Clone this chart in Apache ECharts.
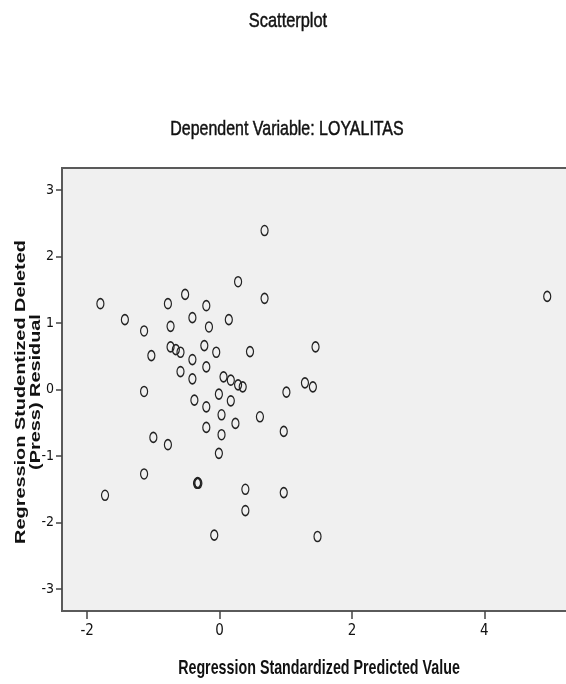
<!DOCTYPE html>
<html>
<head>
<meta charset="utf-8">
<script src="https://cdn.jsdelivr.net/npm/echarts@6/dist/echarts.min.js"></script>
<style>
html,body{margin:0;padding:0;background:#fff;}
#chart{width:566px;height:684px;}
</style>
</head>
<body>
<div id="chart"></div>
<script>
// Regression Standardized Predicted Value
var predicted = [0.68, 0.28, 0.68, -1.80, -0.78, -0.52, -0.20, -1.43, -0.41, 0.14,
  -1.14, -0.74, -0.16, 1.45, -0.74, -0.66, -0.59, -0.23, -0.05, 0.46,
  -1.03, -0.41, -0.20, -0.59, -0.41, 0.06, 0.17, 0.28, 0.35, 1.29,
  1.41, -1.14, 1.01, -0.01, -0.38, 0.17, -0.20, 0.03, 0.61, 0.24,
  -0.20, 0.97, 0.03, -1.00, -0.78, -0.01, -1.14, -0.34, -0.32, -0.33,
  0.39, 0.97, -1.73, 0.39, -0.08, 1.48, 4.95];
// Regression Studentized Deleted (Press) Residual
var residual = [2.39, 1.62, 1.37, 1.29, 1.29, 1.43, 1.26, 1.05, 1.08, 1.05,
  0.88, 0.95, 0.94, 0.64, 0.64, 0.60, 0.56, 0.66, 0.56, 0.57,
  0.51, 0.45, 0.34, 0.27, 0.16, 0.19, 0.14, 0.07, 0.04, 0.10,
  0.04, -0.03, -0.04, -0.07, -0.16, -0.17, -0.26, -0.38, -0.41, -0.51,
  -0.57, -0.63, -0.68, -0.72, -0.83, -0.96, -1.27, -1.41, -1.41, -1.40,
  -1.50, -1.55, -1.59, -1.82, -2.19, -2.21, 1.40];
var xTicks = [-2, 0, 2, 4];
var yTicks = [-3, -2, -1, 0, 1, 2, 3];
var chartTitle = 'Scatterplot';
var chartSubtitle = 'Dependent Variable: LOYALITAS';
var xName = 'Regression Standardized Predicted Value';
var yName = 'Regression Studentized Deleted\n(Press) Residual';

var sans = "'Liberation Sans',Arial,sans-serif";
var narrow = "'DejaVu Sans Condensed','Liberation Sans Narrow','Arial Narrow',Arial,sans-serif";
var points = predicted.map(function (x, i) { return [x, residual[i]]; });

var chart = echarts.init(document.getElementById('chart'), null, {renderer: 'canvas'});
chart.setOption({
  animation: false,
  backgroundColor: '#ffffff',
  graphic: [
    {type: 'text', x: 288, y: 21, scaleX: 0.78, style: {text: chartTitle, textAlign: 'center', textVerticalAlign: 'middle',
      font: '21px ' + sans, fill: '#111', stroke: '#111', lineWidth: 0.5}},
    {type: 'text', x: 287, y: 129, scaleX: 0.76, style: {text: chartSubtitle, textAlign: 'center', textVerticalAlign: 'middle',
      font: '21px ' + sans, fill: '#111', stroke: '#111', lineWidth: 0.5}},
    {type: 'text', x: 319, y: 668, scaleX: 0.68, style: {text: xName, textAlign: 'center', textVerticalAlign: 'middle',
      font: 'bold 21px ' + sans, fill: '#111'}},
    {type: 'text', x: 29, y: 392, rotation: Math.PI / 2, scaleX: 1.42, style: {text: yName, textAlign: 'center',
      textVerticalAlign: 'middle', font: 'bold 14px ' + sans, lineHeight: 15, fill: '#111'}}
  ],
  grid: {
    left: 62, top: 168, right: -3, bottom: 73, outerBoundsMode: 'none', containLabel: false,
    show: true, backgroundColor: '#f0f0f0', borderColor: '#5a5a5a', borderWidth: 2
  },
  xAxis: {
    type: 'value', min: -2.38, max: 5.279,
    splitLine: {show: false},
    axisLine: {show: true, onZero: false, lineStyle: {color: '#5a5a5a', width: 2}},
    axisTick: {show: true, customValues: xTicks, length: 8, lineStyle: {color: '#444', width: 1.5}},
    axisLabel: {customValues: xTicks, margin: 13, color: '#111', fontSize: 15, fontFamily: narrow}
  },
  yAxis: {
    type: 'value', min: -3.33, max: 3.33,
    splitLine: {show: false},
    axisLine: {show: true, onZero: false, lineStyle: {color: '#5a5a5a', width: 2}},
    axisTick: {show: true, customValues: yTicks, length: 6, lineStyle: {color: '#444', width: 1.5}},
    axisLabel: {customValues: yTicks, margin: 8, color: '#111', fontSize: 14, fontFamily: narrow}
  },
  series: [{
    type: 'scatter',
    data: points,
    symbol: 'path://M0,5 A5,5 0 1,1 10,5 A5,5 0 1,1 0,5 Z',
    symbolSize: [7, 10],
    itemStyle: {color: 'rgba(0,0,0,0)', borderColor: '#222', borderWidth: 1.4, opacity: 1},
    emphasis: {disabled: true}
  }]
});
</script>
</body>
</html>
